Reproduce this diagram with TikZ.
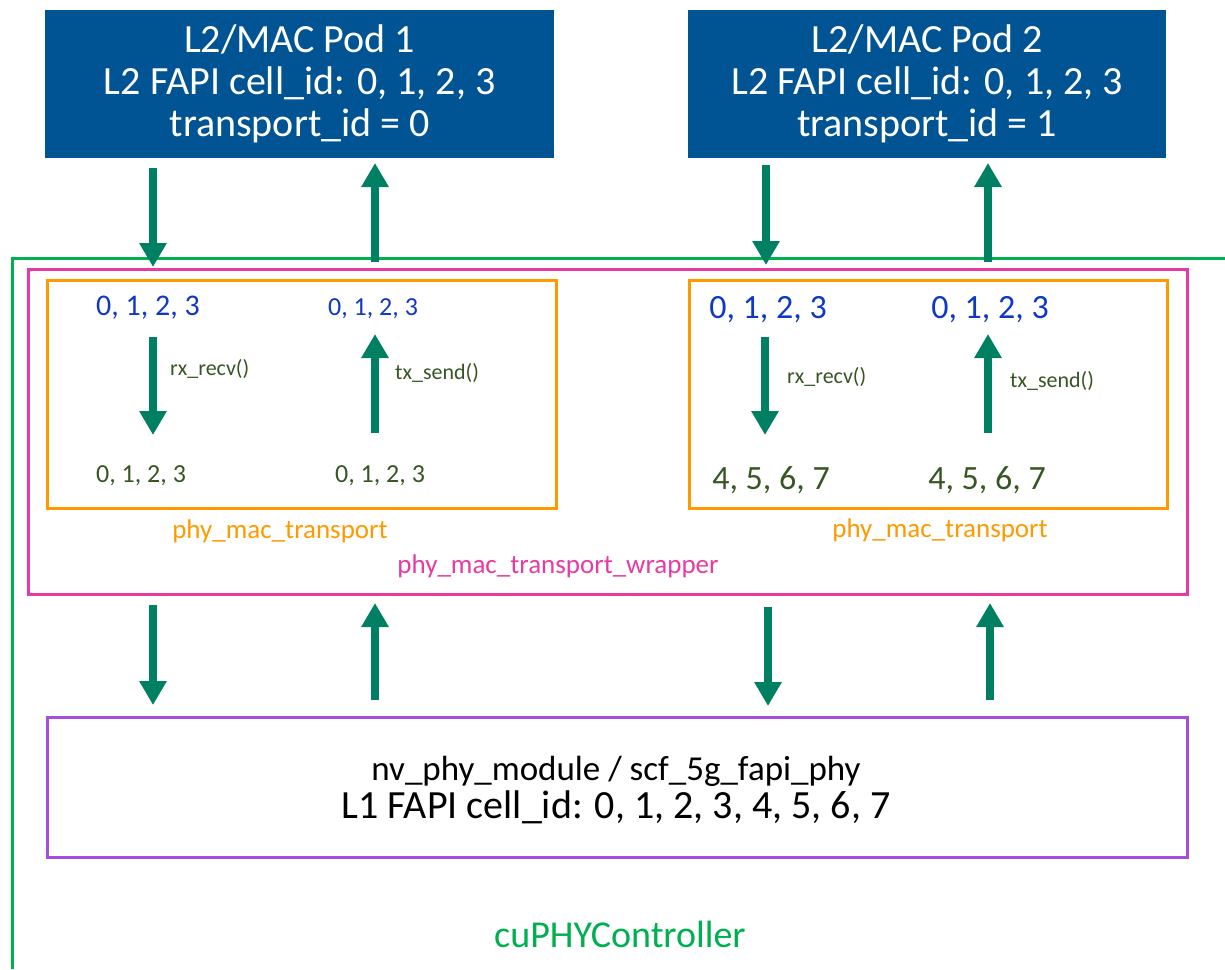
\documentclass[tikz,border=0pt]{standalone}
\usepackage{fontspec}
\setmainfont{Carlito}
\usetikzlibrary{arrows.meta}
\definecolor{podblue}{RGB}{0,84,147}
\definecolor{arrowgreen}{RGB}{0,128,98}
\definecolor{ctrlgreen}{RGB}{0,176,80}
\definecolor{wrappink}{RGB}{232,58,160}
\definecolor{transorange}{RGB}{255,153,0}
\definecolor{modpurple}{RGB}{166,77,218}
\definecolor{idblue}{RGB}{16,56,196}
\definecolor{iddkgreen}{RGB}{55,86,35}
\newcommand{\fsz}[1]{\fontsize{#1}{#1}\selectfont}
\begin{document}
\begin{tikzpicture}[x=1pt,y=-1pt,
  podbox/.style={fill=podblue, draw=none, text=white, align=center,
    font=\fontsize{40}{42}\selectfont, inner sep=0, anchor=north west},
  framebox/.style={line width=3, fill=none, anchor=north west, inner sep=0},
  bigarrow/.style={draw=arrowgreen, line width=8, -{Triangle[width=26,length=24]}},
  idtop/.style={text=idblue, anchor=base, inner sep=0},
  idbot/.style={text=iddkgreen, anchor=base, inner sep=0},
  fnlabel/.style={text=iddkgreen, anchor=base west, inner sep=0, font=\fsz{22}},
]
\useasboundingbox (0,0) rectangle (1225,969);

% outer controller frame
\coordinate (ctrlTR) at (1225,258);
\coordinate (ctrlTL) at (12,258);
\coordinate (ctrlBL) at (12,969);
\draw[ctrlgreen, line width=3] (ctrlTR) -- (ctrlTL) -- (ctrlBL);

% pods
\node[podbox, minimum width=509, minimum height=148] (pod1) at (45,10)
  {L2/MAC Pod 1\\L2 FAPI cell\_id: 0, 1, 2, 3\\transport\_id = 0};
\node[podbox, minimum width=478, minimum height=148] (pod2) at (688,10)
  {L2/MAC Pod 2\\L2 FAPI cell\_id: 0, 1, 2, 3\\transport\_id = 1};

% wrapper and transports
\node[framebox, draw=wrappink, minimum width=1159, minimum height=325] (wrap) at (27,268) {};
\node[framebox, draw=transorange, minimum width=509, minimum height=228] (tl) at (46,279) {};
\node[framebox, draw=transorange, minimum width=478, minimum height=228] (tr) at (688,279) {};

% module box
\node[framebox, draw=modpurple, minimum width=1140, minimum height=140] (mod) at (46,716) {};

% texts in left transport
\node[idtop, font=\fsz{30}] (tlA) at (148,315) {0, 1, 2, 3};
\node[idtop, font=\fsz{26}] (tlB) at (373,315) {0, 1, 2, 3};
\node[idbot, font=\fsz{26}] (tlC) at (141,482) {0, 1, 2, 3};
\node[idbot, font=\fsz{26}] (tlD) at (380,482) {0, 1, 2, 3};
\node[fnlabel] (tlrx) at (170,375) {rx\_recv()};
\node[fnlabel] (tltx) at (395,379) {tx\_send()};
\node[text=transorange, anchor=base, inner sep=0, font=\fsz{27}] (tlname) at (280,538) {phy\_mac\_transport};

% texts in right transport
\node[idtop, font=\fsz{34}] (trA) at (768,318) {0, 1, 2, 3};
\node[idtop, font=\fsz{34}] (trB) at (990,318) {0, 1, 2, 3};
\node[idbot, font=\fsz{34}] (trC) at (771,489) {4, 5, 6, 7};
\node[idbot, font=\fsz{34}] (trD) at (987,489) {4, 5, 6, 7};
\node[fnlabel] (trrx) at (787,383) {rx\_recv()};
\node[fnlabel] (trtx) at (1010,387) {tx\_send()};
\node[text=transorange, anchor=base, inner sep=0, font=\fsz{27}] (trname) at (940,537) {phy\_mac\_transport};

\node[text=wrappink, anchor=base, inner sep=0, font=\fsz{27}] (wrapname) at (558,573) {phy\_mac\_transport\_wrapper};

% module text
\node[anchor=base, inner sep=0, font=\fsz{35}] (modA) at (616,780) {nv\_phy\_module / scf\_5g\_fapi\_phy};
\node[anchor=base, inner sep=0, font=\fsz{40}] (modB) at (616,818) {L1 FAPI cell\_id: 0, 1, 2, 3, 4, 5, 6, 7};

\node[text=ctrlgreen, anchor=base, inner sep=0, font=\fsz{38}] (ctrlname) at (620,947) {cuPHYController};

% arrow end points
\coordinate (a1s) at (153,168); \coordinate (a1e) at (153,267);
\coordinate (a2s) at (375,262); \coordinate (a2e) at (375,163);
\coordinate (a3s) at (766,165); \coordinate (a3e) at (766,265);
\coordinate (a4s) at (988,262); \coordinate (a4e) at (988,163);

\coordinate (b1s) at (153,337); \coordinate (b1e) at (153,435);
\coordinate (b2s) at (375,433); \coordinate (b2e) at (375,334);
\coordinate (b3s) at (765,337); \coordinate (b3e) at (765,435);
\coordinate (b4s) at (988,433); \coordinate (b4e) at (988,334);

\coordinate (c1s) at (153,605); \coordinate (c1e) at (153,705);
\coordinate (c2s) at (375,700); \coordinate (c2e) at (375,603);
\coordinate (c3s) at (768,607); \coordinate (c3e) at (768,706);
\coordinate (c4s) at (990,700); \coordinate (c4e) at (990,603);

\foreach \n in {a1,a2,a3,a4,b1,b2,b3,b4,c1,c2,c3,c4}
  \draw[bigarrow] (\n s) -- (\n e);
\end{tikzpicture}
\end{document}
